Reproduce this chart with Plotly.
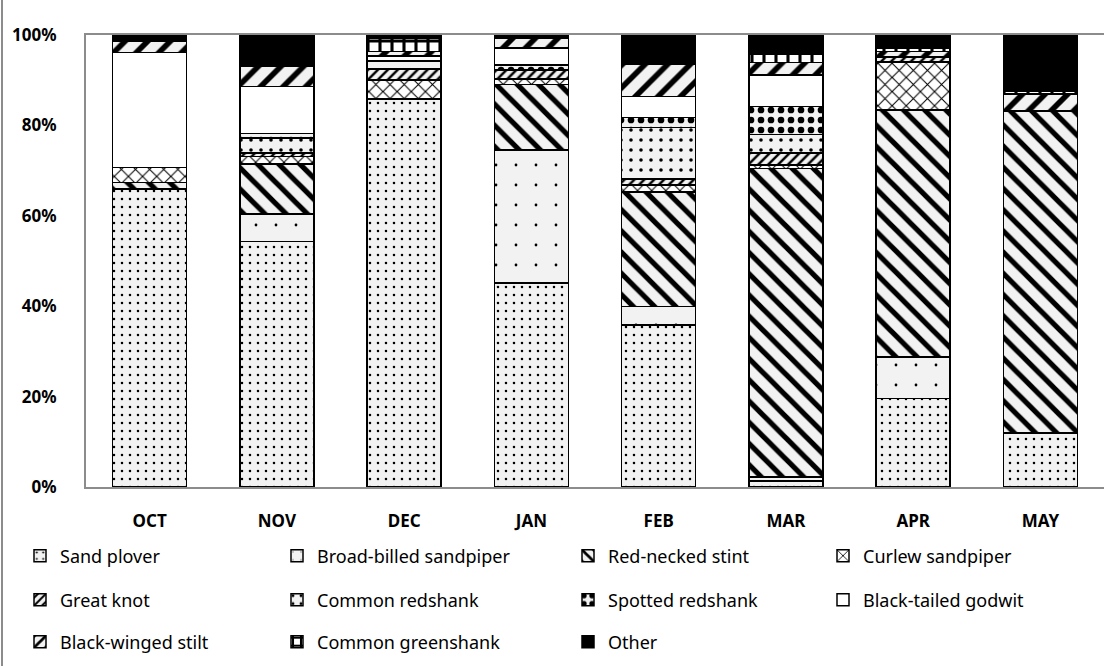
import plotly.graph_objects as go

# Monthly share (%) of each shorebird species
months = ["OCT", "NOV", "DEC", "JAN", "FEB", "MAR", "APR", "MAY"]

sand_plover = [65.9, 54.3, 85.8, 45.1, 35.8, 1.3, 19.6, 12.0]
broad_billed_sandpiper = [0, 6.1, 0, 29.5, 4.1, 0.9, 9.2, 0]
red_necked_stint = [1.5, 11.1, 0, 14.4, 25.4, 68.3, 54.6, 71.2]
curlew_sandpiper = [3.3, 1.6, 4.3, 1.3, 1.5, 0.7, 10.6, 0]
great_knot = [0, 0.8, 2.4, 2.0, 1.3, 2.7, 1.1, 0]
common_redshank = [0, 3.3, 1.8, 0, 11.4, 4.1, 0, 0]
spotted_redshank = [0, 1.0, 0, 1.1, 2.2, 6.2, 0, 0]
black_tailed_godwit = [25.4, 10.4, 1.0, 3.7, 4.7, 6.9, 0, 0]
black_winged_stilt = [2.6, 4.4, 1.1, 2.2, 7.2, 2.8, 1.2, 3.8]
common_greenshank = [0, 0.8, 2.9, 0, 0, 1.9, 0.7, 0.5]
other = [1.3, 6.2, 0.7, 0.7, 6.4, 4.2, 3.0, 12.5]

FONT = "Noto Sans"
LIGHT = "#f2f2f2"

# name, values, pattern (shape, size, solidity), background
series = [
    ("Sand plover", sand_plover, (".", 8, 0.08), LIGHT),
    ("Broad-billed sandpiper", broad_billed_sandpiper, (".", 20, 0.015), LIGHT),
    ("Red-necked stint", red_necked_stint, ("\\", 15, 0.35), LIGHT),
    ("Curlew sandpiper", curlew_sandpiper, ("x", 10, 0.2), "white"),
    ("Great knot", great_knot, ("/", 7, 0.35), LIGHT),
    ("Common redshank", common_redshank, (".", 10, 0.1), LIGHT),
    ("Spotted redshank", spotted_redshank, (".", 10, 0.35), LIGHT),
    ("Black-tailed godwit", black_tailed_godwit, None, "white"),
    ("Black-winged stilt", black_winged_stilt, ("/", 16, 0.35), LIGHT),
    ("Common greenshank", common_greenshank, ("+", 12, 0.45), "white"),
    ("Other", other, None, "black"),
]

# legend grid: 4 columns x 3 rows (pixel positions of each entry)
col_x = [20, 277, 568, 823]
row_y = [556, 600, 642]

fig = go.Figure()
legends = {}
for i, (name, vals, pat, bg) in enumerate(series):
    ys = [v if v else None for v in vals]
    marker = dict(color=bg, line=dict(color="black", width=1.5))
    if pat is not None:
        shape, size, sol = pat
        marker["pattern"] = dict(shape=shape, size=size, solidity=sol,
                                 fgcolor="black", bgcolor=bg, fillmode="replace")
    key = "legend" if i == 0 else f"legend{i + 1}"
    fig.add_trace(go.Bar(x=months, y=ys, name=name, marker=marker, legend=key,
                         showlegend=True))
    legends[key] = dict(
        orientation="h", xref="container", yref="container",
        x=col_x[i % 4] / 1104, y=1 - row_y[i // 4] / 666,
        xanchor="left", yanchor="middle",
        font=dict(family=FONT, size=18, color="black"),
        bgcolor="rgba(0,0,0,0)", visible=True,
    )

fig.update_layout(
    width=1104, height=666,
    margin=dict(l=86, r=0, t=35, b=179),
    barmode="stack", bargap=0.418,
    showlegend=True,
    plot_bgcolor="white", paper_bgcolor="white",
    font=dict(family=FONT, color="black"),
    xaxis=dict(showline=True, linecolor="#8c8c8c", linewidth=2, mirror=True,
               showgrid=False, ticks="", ticklabelstandoff=18,
               tickfont=dict(family=FONT, size=17, color="black", weight="bold")),
    yaxis=dict(range=[0, 100], dtick=20, ticksuffix="%", showgrid=False,
               showline=True, linecolor="#8c8c8c", linewidth=2, zeroline=False,
               ticks="", ticklabelstandoff=24,
               tickfont=dict(family=FONT, size=17, color="black", weight="bold")),
    shapes=[dict(type="line", xref="paper", yref="paper", x0=-84 / 1018, x1=-84 / 1018,
                 y0=-179 / 452, y1=1 + 35 / 452, line=dict(color="#8c8c8c", width=2))],
    **legends,
)

fig.write_html("out.html")
